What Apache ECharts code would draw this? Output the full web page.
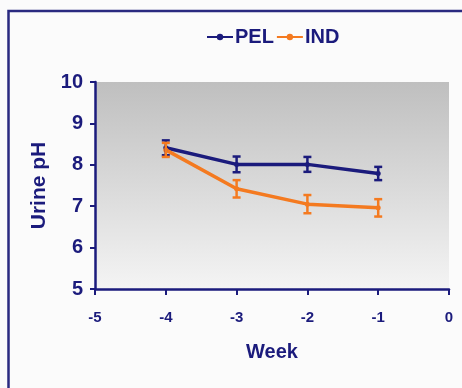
<!DOCTYPE html>
<html><head><meta charset="utf-8">
<script src="https://cdn.jsdelivr.net/npm/echarts@6/dist/echarts.min.js"></script>
<style>html,body{margin:0;padding:0;background:#fafafa;}#c{width:462px;height:388px;}</style>
</head><body><div id="c"></div>
<script>
const weeks = [-4, -3, -2, -1];
const pelMean = [8.41, 8.01, 8.01, 7.79];
const pelErr = [0.18, 0.19, 0.18, 0.16];
const indMean = [8.36, 7.42, 7.05, 6.96];
const indErr = [0.17, 0.21, 0.22, 0.21];
const xTicks = [-5, -4, -3, -2, -1, 0];
const yTicks = [5, 6, 7, 8, 9, 10];

const navy = '#1b1b7c';
const orange = '#f47a20';
const pelData = weeks.map((w, i) => [w, pelMean[i]]);
const indData = weeks.map((w, i) => [w, indMean[i]]);
const pelErrData = weeks.map((w, i) => [w, pelMean[i] - pelErr[i], pelMean[i] + pelErr[i]]);
const indErrData = weeks.map((w, i) => [w, indMean[i] - indErr[i], indMean[i] + indErr[i]]);

function errRender(color) {
  return function (params, api) {
    const x = api.value(0);
    const lo = api.coord([x, api.value(1)]);
    const hi = api.coord([x, api.value(2)]);
    const w = 4;
    const st = { stroke: color, lineWidth: 2.5 };
    return { type: 'group', children: [
      { type: 'line', shape: { x1: lo[0], y1: lo[1], x2: hi[0], y2: hi[1] }, style: st },
      { type: 'line', shape: { x1: lo[0] - w, y1: lo[1], x2: lo[0] + w, y2: lo[1] }, style: st },
      { type: 'line', shape: { x1: hi[0] - w, y1: hi[1], x2: hi[0] + w, y2: hi[1] }, style: st }
    ]};
  };
}

const chart = echarts.init(document.getElementById('c'), null, { renderer: 'canvas' });
chart.setOption({
  backgroundColor: '#fbfbfb',
  animation: false,
  graphic: [{
    type: 'rect', shape: { x: 8.5, y: 11, width: 470, height: 400 },
    style: { fill: 'none', stroke: '#2a2a80', lineWidth: 2.5 }, z: 100
  }],
  legend: {
    top: 22, left: 201, itemWidth: 26, itemHeight: 8, itemGap: 2,
    data: ['PEL', 'IND'],
    textStyle: { fontFamily: 'Liberation Sans', fontWeight: 'bold', fontSize: 20, color: navy, padding: [0, 0, 0, -3] }
  },
  grid: {
    left: 95, right: 13, top: 82, bottom: 99,
    show: true, borderWidth: 0,
    backgroundColor: new echarts.graphic.LinearGradient(0, 0, 0, 1, [
      { offset: 0, color: '#bfbfbf' }, { offset: 1, color: '#f4f4f4' }
    ])
  },
  xAxis: {
    type: 'value', min: -5, max: 0, interval: 1,
    name: 'Week', nameLocation: 'middle', nameGap: 53,
    nameTextStyle: { fontFamily: 'Liberation Sans', fontWeight: 'bold', fontSize: 20, color: navy },
    axisLine: { onZero: false, lineStyle: { color: navy, width: 2.5 } },
    axisTick: { lineStyle: { color: navy, width: 2 }, length: 6 },
    axisLabel: { fontFamily: 'Liberation Sans', fontWeight: 'bold', fontSize: 15, color: navy, margin: 21,
      formatter: v => xTicks.includes(v) ? String(v) : '' },
    splitLine: { show: false }
  },
  yAxis: {
    type: 'value', min: 5, max: 10, interval: 1,
    name: 'Urine pH', nameLocation: 'middle', nameGap: 44,
    nameTextStyle: { fontFamily: 'Liberation Sans', fontWeight: 'bold', fontSize: 21, color: navy },
    axisLine: { show: true, onZero: false, lineStyle: { color: navy, width: 2.5 } },
    axisTick: { show: true, lineStyle: { color: navy, width: 2 }, length: 5 },
    axisLabel: { fontFamily: 'Liberation Sans', fontWeight: 'bold', fontSize: 20, color: navy, margin: 12,
      formatter: v => yTicks.includes(v) ? String(v) : '' },
    splitLine: { show: false }
  },
  series: [
    { name: 'PEL', type: 'line', data: pelData, color: navy, symbol: 'circle', symbolSize: 5,
      lineStyle: { width: 3.5, color: navy }, itemStyle: { color: navy }, z: 3 },
    { name: 'IND', type: 'line', data: indData, color: orange, symbol: 'circle', symbolSize: 5,
      lineStyle: { width: 3.5, color: orange }, itemStyle: { color: orange }, z: 4 },
    { name: 'PEL err', type: 'custom', data: pelErrData, renderItem: errRender(navy), z: 5,
      encode: { x: 0, y: [1, 2] } },
    { name: 'IND err', type: 'custom', data: indErrData, renderItem: errRender(orange), z: 6,
      encode: { x: 0, y: [1, 2] } }
  ]
});
</script></body></html>
